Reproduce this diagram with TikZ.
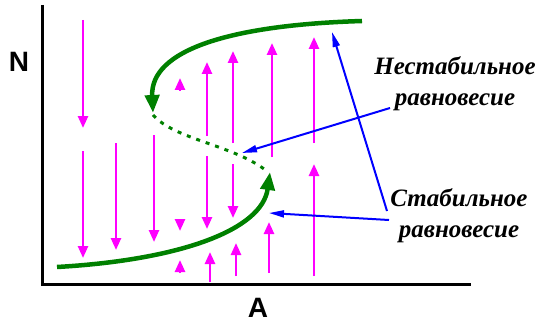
\documentclass[tikz,border=0pt]{standalone}
\usepackage{fontspec}
\setmainfont{Liberation Serif}
\setsansfont{Liberation Sans}
\usetikzlibrary{arrows.meta}
\definecolor{curve}{HTML}{008000}
\definecolor{field}{HTML}{FF00FF}
\definecolor{pointer}{HTML}{0000FF}
\tikzset{axis/.style={line width=3pt},branch/.style={draw=curve,line width=4.5pt,-{Triangle[length=18pt,width=14pt]}},ghost/.style={draw=curve,line width=3pt,dash pattern=on 4pt off 6pt},fld/.style={draw=field,line width=2.5pt,-{Triangle[length=12pt,width=10pt]}},ptr/.style={draw=pointer,line width=2pt,-{Triangle[length=15pt,width=7pt]}},lbl/.style={font=\fontsize{25}{31}\selectfont\bfseries\itshape,align=center},axlbl/.style={font=\fontsize{28}{28}\selectfont\sffamily\bfseries,inner sep=0pt}}

\begin{document}
\begin{tikzpicture}[x=1pt,y=-1pt]
\useasboundingbox (0,0) rectangle (537,326);
\draw[axis] (42,5) |- (471,284);
\node[axlbl] (nlbl) at (19,62) {N};
\node[axlbl] (albl) at (258,308) {A};
% field arrows
\foreach \x/\a/\b in {83/20/128,83/151/258,116/143/250,154/135/242,180/219/231,207/156/229,233/164/218,180/91/78,207/136/62,233/143/51,272/157/43,314/143/37,180/273/260,210/282/252,236/276/243,269/273/222,314/276/164}
  \draw[fld] (\x,\a) -- (\x,\b);
% equilibrium curve
\draw[branch] (362,21) .. controls (230,25) and (150,50) .. (153,113);
\draw[ghost] (153,115) .. controls (175,140) and (235,145) .. (268,172);
\draw[branch] (57,267) .. controls (180,260) and (262,230) .. (270,172);
% labels
\node[lbl] (unstable) at (455,84) {Нестабильное\\равновесие};
\node[lbl] (stable) at (459,216) {Стабильное\\равновесие};
\coordinate (u1) at (390,108);
\coordinate (s1) at (387,211);
\coordinate (s2) at (389,220);
\coordinate (mid) at (242,153);
\coordinate (top) at (332,32);
\coordinate (low) at (269,213);
\draw[ptr] (u1) -- (mid);
\draw[ptr] (s1) -- (top);
\draw[ptr] (s2) -- (low);
\end{tikzpicture}
\end{document}
